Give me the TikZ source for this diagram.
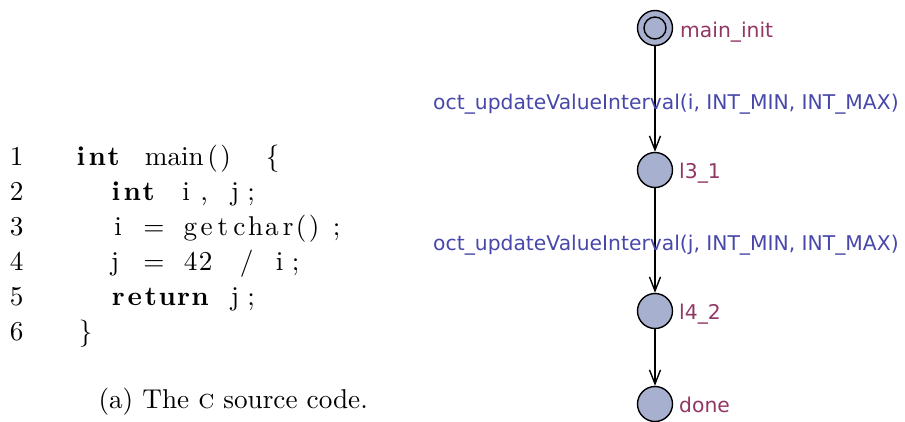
\documentclass[tikz,border=0pt]{standalone}
\usepackage{fontspec}
\newfontfamily\dv{DejaVu Sans}
\usetikzlibrary{arrows.meta}
\definecolor{updblue}{RGB}{72,72,170}
\definecolor{locname}{RGB}{145,55,100}
\definecolor{locfill}{RGB}{168,176,208}
\newlength\cwd
\def\spread#1{\spreadi#1\relax}
\def\spreadi#1{\ifx#1\relax\else\makebox[\cwd]{#1}\expandafter\spreadi\fi}
\def\spreadb#1{{\bfseries\spread{#1}}}
% place token with left edge at picture x (px) inside a code line node starting at x=71
\newcommand\at[2]{\makebox[0pt][l]{\hspace*{\dimexpr(#1pt-71pt)*25/68\relax}#2}}
\tikzset{
  loc/.style={circle, draw=black, line width=1.4pt, fill=locfill, minimum size=35pt, inner sep=0pt},
  locname/.style={anchor=base west, inner sep=0pt, text=locname, font=\dv\fontsize{20.3}{24}\selectfont},
  upd/.style={anchor=base west, inner sep=0pt, text=updblue, font=\dv\fontsize{20.3}{24}\selectfont},
  edge/.style={line width=1.4pt, -{Straight Barb[length=14pt, width=11pt, line width=1.4pt]}},
  big/.style={anchor=base west, inner sep=0pt, scale=2.72, transform shape, font=\fontsize{10}{12}\selectfont},
  code/.style={big, font=\fontsize{10}{12}\selectfont\setlength\cwd{0.6em}},
  lno/.style={big, anchor=base east},
}
\begin{document}
\begin{tikzpicture}[x=1pt, y=-1pt]
\useasboundingbox (0,0) rectangle (905,421);
% code listing
\node[lno] (n1) at (24,165) {1};
\node[lno] (n2) at (24,200) {2};
\node[lno] (n3) at (24,235) {3};
\node[lno] (n4) at (24,270) {4};
\node[lno] (n5) at (24,305) {5};
\node[lno] (n6) at (24,340) {6};
\node[code] (c1) at (71,165) {\at{71}{\spreadb{int}}\at{143}{main}\at{205.5}{(}\at{218.5}{)}\at{264}{\{}};
\node[code] (c2) at (71,200) {\at{106}{\spreadb{int}}\at{180.5}{i}\at{198.5}{,}\at{229}{j}\at{245.5}{;}};
\node[code] (c3) at (71,235) {\at{112.5}{i}\at{141.5}{=}\at{180.3}{\spread{getchar}}\at{294}{(}\at{307}{)}\at{331}{;}};
\node[code] (c4) at (71,270) {\at{109}{j}\at{141.5}{=}\at{182}{4}\at{197}{2}\at{238}{/}\at{274}{i}\at{290}{;}};
\node[code] (c5) at (71,305) {\at{108.3}{\spreadb{return}}\at{229}{j}\at{245.5}{;}};
\node[code] (c6) at (71,340) {\at{77}{\}}};
\node[big] (cap) at (98,408) {(a) The \textsc{c} source code.};
% automaton
\node[loc] (s0) at (655,28) {};
\draw[line width=1.4pt] (s0.center) circle (11pt);
\node[loc] (s1) at (655,170) {};
\node[loc] (s2) at (655,311) {};
\node[loc] (s3) at (655,404) {};
\node[locname] (t0) at (680,37) {main\_init};
\node[locname] (t1) at (679,178) {l3\_1};
\node[locname] (t2) at (679,319) {l4\_2};
\node[locname] (t3) at (679,412.5) {done};
\draw[edge] (s0) -- (s1);
\draw[edge] (s1) -- (s2);
\draw[edge] (s2) -- (s3);
\node[upd] (u1) at (433,109) {oct\_updateValueInterval(i, INT\_MIN, INT\_MAX)};
\node[upd] (u2) at (433,250) {oct\_updateValueInterval(j, INT\_MIN, INT\_MAX)};
\end{tikzpicture}
\end{document}
